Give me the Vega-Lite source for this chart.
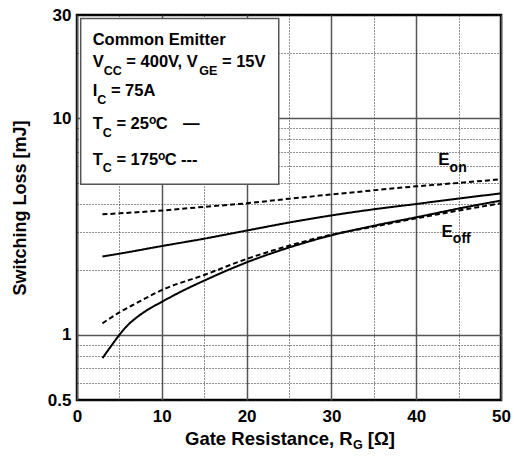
{
  "$schema": "https://vega.github.io/schema/vega-lite/v6.json",
  "width": 424,
  "height": 385,
  "autosize": {"type": "none"},
  "padding": {"left": 77, "top": 15, "right": 13, "bottom": 61},
  "background": "white",
  "config": {
    "font": "Liberation Sans",
    "view": {"stroke": "black", "strokeWidth": 2.5}
  },
  "datasets": {
    "box": [{"x": 0.436, "xe": 23.79, "y": 28.94, "ye": 4.96}],
    "curves": [
      {"x": 3, "y": 2.30, "series": "Eon25", "Tc": "25"},
      {"x": 5, "y": 2.37, "series": "Eon25", "Tc": "25"},
      {"x": 10, "y": 2.57, "series": "Eon25", "Tc": "25"},
      {"x": 15, "y": 2.78, "series": "Eon25", "Tc": "25"},
      {"x": 20, "y": 3.03, "series": "Eon25", "Tc": "25"},
      {"x": 25, "y": 3.30, "series": "Eon25", "Tc": "25"},
      {"x": 30, "y": 3.56, "series": "Eon25", "Tc": "25"},
      {"x": 35, "y": 3.80, "series": "Eon25", "Tc": "25"},
      {"x": 40, "y": 4.02, "series": "Eon25", "Tc": "25"},
      {"x": 45, "y": 4.26, "series": "Eon25", "Tc": "25"},
      {"x": 50, "y": 4.50, "series": "Eon25", "Tc": "25"},
      {"x": 3, "y": 3.60, "series": "Eon175", "Tc": "175"},
      {"x": 5, "y": 3.64, "series": "Eon175", "Tc": "175"},
      {"x": 10, "y": 3.75, "series": "Eon175", "Tc": "175"},
      {"x": 15, "y": 3.90, "series": "Eon175", "Tc": "175"},
      {"x": 20, "y": 4.05, "series": "Eon175", "Tc": "175"},
      {"x": 25, "y": 4.25, "series": "Eon175", "Tc": "175"},
      {"x": 30, "y": 4.45, "series": "Eon175", "Tc": "175"},
      {"x": 35, "y": 4.65, "series": "Eon175", "Tc": "175"},
      {"x": 40, "y": 4.85, "series": "Eon175", "Tc": "175"},
      {"x": 45, "y": 5.03, "series": "Eon175", "Tc": "175"},
      {"x": 50, "y": 5.23, "series": "Eon175", "Tc": "175"},
      {"x": 3, "y": 0.78, "series": "Eoff25", "Tc": "25"},
      {"x": 4, "y": 0.885, "series": "Eoff25", "Tc": "25"},
      {"x": 5, "y": 1.0, "series": "Eoff25", "Tc": "25"},
      {"x": 6, "y": 1.11, "series": "Eoff25", "Tc": "25"},
      {"x": 7, "y": 1.20, "series": "Eoff25", "Tc": "25"},
      {"x": 8, "y": 1.28, "series": "Eoff25", "Tc": "25"},
      {"x": 10, "y": 1.42, "series": "Eoff25", "Tc": "25"},
      {"x": 12.5, "y": 1.60, "series": "Eoff25", "Tc": "25"},
      {"x": 15, "y": 1.78, "series": "Eoff25", "Tc": "25"},
      {"x": 20, "y": 2.16, "series": "Eoff25", "Tc": "25"},
      {"x": 25, "y": 2.53, "series": "Eoff25", "Tc": "25"},
      {"x": 30, "y": 2.88, "series": "Eoff25", "Tc": "25"},
      {"x": 35, "y": 3.19, "series": "Eoff25", "Tc": "25"},
      {"x": 40, "y": 3.49, "series": "Eoff25", "Tc": "25"},
      {"x": 45, "y": 3.83, "series": "Eoff25", "Tc": "25"},
      {"x": 50, "y": 4.17, "series": "Eoff25", "Tc": "25"},
      {"x": 3, "y": 1.13, "series": "Eoff175", "Tc": "175"},
      {"x": 5, "y": 1.27, "series": "Eoff175", "Tc": "175"},
      {"x": 7, "y": 1.40, "series": "Eoff175", "Tc": "175"},
      {"x": 10, "y": 1.61, "series": "Eoff175", "Tc": "175"},
      {"x": 15, "y": 1.89, "series": "Eoff175", "Tc": "175"},
      {"x": 20, "y": 2.24, "series": "Eoff175", "Tc": "175"},
      {"x": 25, "y": 2.58, "series": "Eoff175", "Tc": "175"},
      {"x": 30, "y": 2.90, "series": "Eoff175", "Tc": "175"},
      {"x": 35, "y": 3.16, "series": "Eoff175", "Tc": "175"},
      {"x": 40, "y": 3.45, "series": "Eoff175", "Tc": "175"},
      {"x": 45, "y": 3.75, "series": "Eoff175", "Tc": "175"},
      {"x": 50, "y": 4.05, "series": "Eoff175", "Tc": "175"}
    ],
    "legendMain": [
      {"x": 1.851, "y": 21.79, "t": "Common Emitter"},
      {"x": 1.851, "y": 17.25, "t": "V"},
      {"x": 5.814, "y": 17.25, "t": "= 400V, V"},
      {"x": 17.09, "y": 17.25, "t": "= 15V"},
      {"x": 1.851, "y": 12.61, "t": "I"},
      {"x": 3.998, "y": 12.61, "t": "= 75A"},
      {"x": 1.851, "y": 8.88, "t": "T"},
      {"x": 4.646, "y": 8.88, "t": "= 25"},
      {"x": 9.281, "y": 8.88, "t": "C"},
      {"x": 12.5, "y": 8.88, "t": "—"},
      {"x": 1.851, "y": 6.09, "t": "T"},
      {"x": 4.646, "y": 6.09, "t": "= 175"},
      {"x": 10.354, "y": 6.09, "t": "C"},
      {"x": 12.26, "y": 6.09, "t": "---"}
    ],
    "legendSub": [
      {"x": 3.149, "y": 15.93, "t": "CC"},
      {"x": 14.41, "y": 15.93, "t": "GE"},
      {"x": 2.394, "y": 11.64, "t": "C"},
      {"x": 3.042, "y": 8.20, "t": "C"},
      {"x": 3.042, "y": 5.62, "t": "C"}
    ],
    "legendSup": [
      {"x": 8.491, "y": 9.40, "t": "o"},
      {"x": 9.564, "y": 6.45, "t": "o"}
    ],
    "curveLabel": [
      {"x": 42.61, "y": 6.09, "t": "E"},
      {"x": 42.98, "y": 2.842, "t": "E"}
    ],
    "curveLabelSub": [
      {"x": 43.94, "y": 5.67, "t": "on"},
      {"x": 44.32, "y": 2.65, "t": "off"}
    ],
    "xTitle": [
      {"x": 12.74, "y": 0.3084, "t": "Gate Resistance, R"},
      {"x": 34.3, "y": 0.3084, "t": "[Ω]"}
    ],
    "xTitleSub": [
      {"x": 32.55, "y": 0.2969, "t": "G"}
    ]
  },
  "encoding": {
    "x": {
      "field": "x",
      "type": "quantitative",
      "scale": {"domain": [0, 50], "nice": false, "zero": false},
      "axis": {
        "title": null,
        "values": [0, 5, 10, 15, 20, 25, 30, 35, 40, 45, 50],
        "format": "d",
        "labelExpr": "datum.value % 10 === 0 ? datum.label : ''",
        "labelFlush": false,
        "labelOverlap": false,
        "labelFontSize": 17,
        "labelFontWeight": "bold",
        "labelColor": "black",
        "labelPadding": 8,
        "ticks": false,
        "tickSize": 0,
        "domain": false,
        "grid": true,
        "gridColor": {"condition": {"test": "datum.value % 10 === 0", "value": "#555555"}, "value": "#222222"},
        "gridDash": {"condition": {"test": "datum.value % 10 === 0", "value": []}, "value": [1, 2]},
        "gridWidth": {"condition": {"test": "datum.value % 10 === 0", "value": 1.5}, "value": 1},
        "gridOpacity": 1
      }
    },
    "y": {
      "field": "y",
      "type": "quantitative",
      "scale": {"type": "log", "domain": [0.5, 30], "nice": false},
      "axis": {
        "title": "Switching Loss [mJ]",
        "titleFontSize": 18,
        "titleFontWeight": "bold",
        "titleColor": "black",
        "titlePadding": 18,
        "values": [0.5, 0.6, 0.7, 0.8, 0.9, 1, 2, 3, 4, 5, 6, 7, 8, 9, 10, 20, 30],
        "format": "~g",
        "labelExpr": "(datum.value === 0.5 || datum.value === 1 || datum.value === 10 || datum.value === 30) ? datum.label : ''",
        "labelFlush": false,
        "labelOverlap": false,
        "labelFontSize": 17,
        "labelFontWeight": "bold",
        "labelColor": "black",
        "labelPadding": 6,
        "ticks": false,
        "tickSize": 0,
        "domain": false,
        "grid": true,
        "gridColor": {"condition": {"test": "datum.value === 1 || datum.value === 10", "value": "#555555"}, "value": "#222222"},
        "gridDash": {"condition": {"test": "datum.value === 1 || datum.value === 10", "value": []}, "value": [1, 2]},
        "gridWidth": {"condition": {"test": "datum.value === 1 || datum.value === 10", "value": 1.5}, "value": 1},
        "gridOpacity": 1
      }
    }
  },
  "layer": [
    {
      "data": {"name": "box"},
      "mark": {"type": "rect", "fill": "white", "stroke": "#555555", "strokeWidth": 1.5},
      "encoding": {"x2": {"field": "xe"}, "y2": {"field": "ye"}}
    },
    {
      "data": {"name": "curves"},
      "mark": {"type": "line", "color": "black", "strokeWidth": 2, "interpolate": "monotone"},
      "encoding": {
        "detail": {"field": "series", "type": "nominal"},
        "strokeDash": {
          "field": "Tc",
          "type": "nominal",
          "scale": {"domain": ["25", "175"], "range": [[1, 0], [5, 3]]},
          "legend": null
        }
      }
    },
    {
      "data": {"name": "legendMain"},
      "mark": {"type": "text", "align": "left", "baseline": "alphabetic", "fontSize": 16.5, "fontWeight": "bold", "color": "black"},
      "encoding": {"text": {"field": "t"}}
    },
    {
      "data": {"name": "legendSub"},
      "mark": {"type": "text", "align": "left", "baseline": "alphabetic", "fontSize": 12.5, "fontWeight": "bold", "color": "black"},
      "encoding": {"text": {"field": "t"}}
    },
    {
      "data": {"name": "legendSup"},
      "mark": {"type": "text", "align": "left", "baseline": "alphabetic", "fontSize": 12, "fontWeight": "bold", "color": "black"},
      "encoding": {"text": {"field": "t"}}
    },
    {
      "data": {"name": "curveLabel"},
      "mark": {"type": "text", "align": "left", "baseline": "alphabetic", "fontSize": 17, "fontWeight": "bold", "color": "black"},
      "encoding": {"text": {"field": "t"}}
    },
    {
      "data": {"name": "curveLabelSub"},
      "mark": {"type": "text", "align": "left", "baseline": "alphabetic", "fontSize": 14, "fontWeight": "bold", "color": "black"},
      "encoding": {"text": {"field": "t"}}
    },
    {
      "data": {"name": "xTitle"},
      "mark": {"type": "text", "align": "left", "baseline": "alphabetic", "fontSize": 18.5, "fontWeight": "bold", "color": "black"},
      "encoding": {"text": {"field": "t"}}
    },
    {
      "data": {"name": "xTitleSub"},
      "mark": {"type": "text", "align": "left", "baseline": "alphabetic", "fontSize": 12.5, "fontWeight": "bold", "color": "black"},
      "encoding": {"text": {"field": "t"}}
    }
  ]
}
